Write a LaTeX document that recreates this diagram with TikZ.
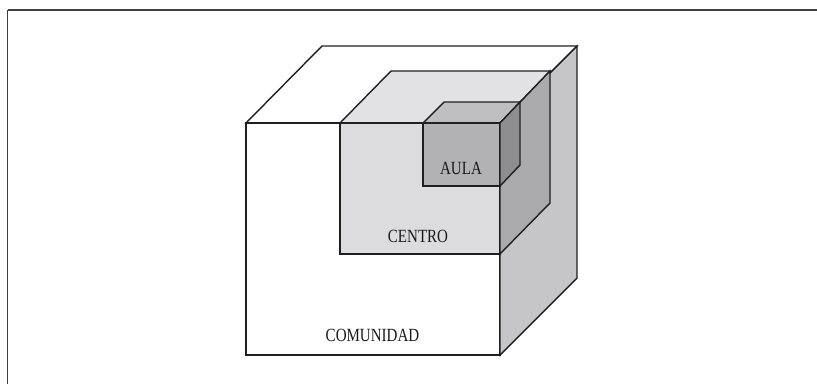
\documentclass[tikz,border=0pt]{standalone}
\usepackage{fontspec}
\setmainfont{Liberation Serif}
\begin{document}
\begin{tikzpicture}[x=1pt,y=-1pt,
  edge/.style={draw=black!88, line width=1.4pt, line join=miter},
  lbl/.style={font=\fontsize{15.5}{16}\selectfont, text=black!90, inner sep=0pt}]
\useasboundingbox (0,0) rectangle (817,384);
\fill[white] (0,0) rectangle (817,384);
% frame
\draw[black!75, line width=1.2pt] (7.5,10) -- (817,10);
\draw[black!75, line width=1.2pt] (7.5,10) -- (7.5,384);
% outer cube
\path[edge, fill=white] (246,123) -- (322,46) -- (577,46) -- (500,123) -- cycle;
\path[edge, fill=white] (246,123) rectangle (500,355);
\path[edge, fill={rgb,255:red,198;green,198;blue,200}] (500,123) -- (577,46) -- (577,278) -- (500,355) -- cycle;
% centro cube
\path[edge, fill={rgb,255:red,226;green,226;blue,228}] (340,123) -- (391,71) -- (550,71) -- (500,123) -- cycle;
\path[edge, fill={rgb,255:red,220;green,220;blue,222}] (340,123) rectangle (500,254);
\path[edge, fill={rgb,255:red,170;green,170;blue,173}] (500,123) -- (550,71) -- (550,203) -- (500,254) -- cycle;
% aula cube
\path[edge, fill={rgb,255:red,190;green,190;blue,192}] (423,123) -- (444,102) -- (520,102) -- (500,123) -- cycle;
\path[edge, fill={rgb,255:red,178;green,178;blue,180}] (423,123) rectangle (500,186);
\path[edge, fill={rgb,255:red,142;green,142;blue,145}] (500,123) -- (520,102) -- (520,165) -- (500,186) -- cycle;
% labels
\node[lbl] (comunidad) at (372.5,335) {\scalebox{0.97}[1.2]{COMUNIDAD}};
\node[lbl] (centro) at (418,236) {\scalebox{0.97}[1.2]{CENTRO}};
\node[lbl] (aula) at (461,168.5) {\scalebox{0.97}[1.2]{AULA}};
\end{tikzpicture}
\end{document}
